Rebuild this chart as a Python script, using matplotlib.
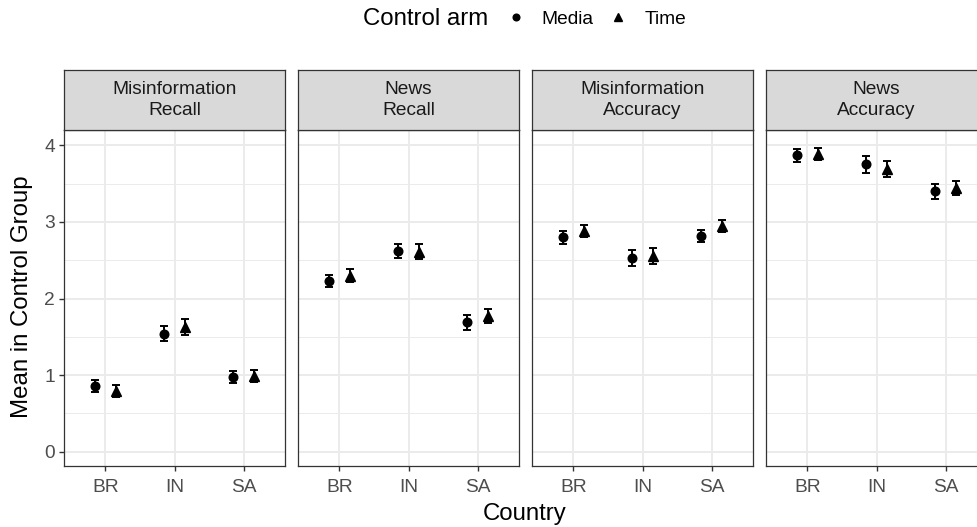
import numpy as np
import matplotlib.pyplot as plt
from matplotlib.lines import Line2D

plt.rcParams['font.family'] = ['Liberation Sans', 'DejaVu Sans']

countries = ['BR', 'IN', 'SA']
panels = ['Misinformation\nRecall', 'News\nRecall',
          'Misinformation\nAccuracy', 'News\nAccuracy']

# means and half-widths of the error bars, one row per panel
media_mean = [[0.86, 1.54, 0.98],
              [2.23, 2.62, 1.69],
              [2.80, 2.53, 2.82],
              [3.87, 3.75, 3.40]]
media_err = [[0.08, 0.095, 0.08],
             [0.08, 0.09, 0.10],
             [0.085, 0.10, 0.08],
             [0.085, 0.105, 0.10]]
time_mean = [[0.79, 1.63, 0.99],
             [2.30, 2.61, 1.77],
             [2.88, 2.55, 2.95],
             [3.89, 3.69, 3.44]]
time_err = [[0.075, 0.10, 0.076],
            [0.08, 0.10, 0.09],
            [0.08, 0.105, 0.08],
            [0.08, 0.105, 0.09]]

W, H = 977, 527
fig = plt.figure(figsize=(W / 100, H / 100), dpi=100)

dark = '#333333'
grid = '#EBEBEB'
lefts = [64, 298, 532, 766]
pw = 221
top, bottom, strip_top = 130, 465.5, 70
x = np.arange(1, 4)
dodge = 0.15
small, big = 13.8, 17.3

for i, name in enumerate(panels):
    l = lefts[i]
    ax = fig.add_axes([l / W, (H - bottom) / H, pw / W, (bottom - top) / H])
    ax.set_xlim(0.4, 3.6)
    ax.set_ylim(-0.18, 4.2)
    ax.set_xticks(x)
    ax.set_xticklabels(countries)
    ax.set_yticks([0, 1, 2, 3, 4])
    ax.set_yticks([0.5, 1.5, 2.5, 3.5], minor=True)
    ax.set_xticks([], minor=True)
    ax.grid(True, which='major', color=grid, lw=1.4)
    ax.grid(True, which='minor', axis='y', color=grid, lw=0.7)
    ax.set_axisbelow(True)
    for s in ax.spines.values():
        s.set_color(dark)
        s.set_linewidth(0.9)
    ax.tick_params(axis='both', which='major', colors=dark, length=3.5,
                   width=1.0, labelsize=small, labelcolor='#4D4D4D', pad=3)
    ax.tick_params(axis='x', which='major', pad=6)
    ax.tick_params(axis='y', which='minor', length=0)
    if i > 0:
        ax.tick_params(axis='y', which='both', left=False, labelleft=False)

    ax.errorbar(x - dodge, media_mean[i], yerr=media_err[i], fmt='o',
                color='black', ms=6.2, capsize=3.2, elinewidth=1.4,
                capthick=1.4)
    ax.errorbar(x + dodge, time_mean[i], yerr=time_err[i], fmt='^',
                color='black', ms=6.7, capsize=3.2, elinewidth=1.4,
                capthick=1.4)

    sax = fig.add_axes([l / W, (H - top) / H, pw / W, (top - strip_top) / H])
    sax.set_facecolor('#D9D9D9')
    sax.set_xticks([])
    sax.set_yticks([])
    for s in sax.spines.values():
        s.set_color(dark)
        s.set_linewidth(0.9)
    sax.text(0.5, 0.5, name, ha='center', va='center', fontsize=small,
             color='#1A1A1A', transform=sax.transAxes, linespacing=1.3)

fig.text(22 / W, (H - 297) / H, 'Mean in Control Group', rotation=90,
         ha='center', va='center', fontsize=big)
fig.text(525 / W, (H - 514) / H, 'Country', ha='center', va='center',
         fontsize=big)

fig.text(363 / W, (H - 19) / H, 'Control arm', ha='left', va='center',
         fontsize=big)
handles = [Line2D([], [], marker='o', ls='', color='black', ms=4.8),
           Line2D([], [], marker='^', ls='', color='black', ms=5.2)]
fig.legend(handles, ['Media', 'Time'], ncol=2, frameon=False,
           loc='center left', bbox_to_anchor=(506 / W, (H - 19) / H),
           fontsize=small, handletextpad=0.85, columnspacing=0.8,
           handlelength=1.0, borderpad=0, borderaxespad=0)

fig.savefig('out.png', dpi=100)
